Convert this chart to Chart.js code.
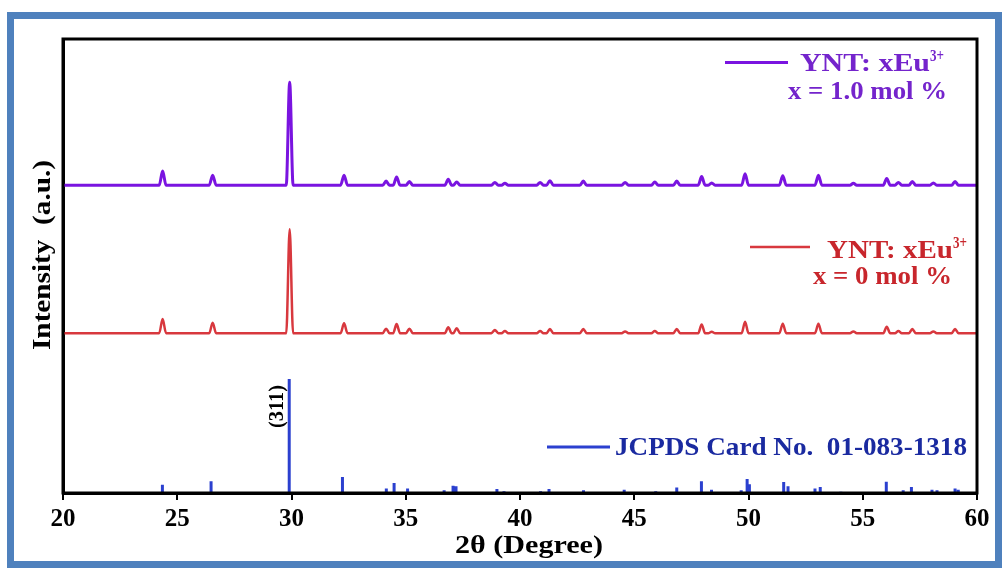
<!DOCTYPE html>
<html>
<head>
<meta charset="utf-8">
<script src="https://cdn.jsdelivr.net/npm/chart.js@4.4.1/dist/chart.umd.min.js"></script>
<style>
  html, body { margin: 0; padding: 0; background: #ffffff; }
  #wrap { position: relative; width: 1005px; height: 568px; }
  canvas { display: block; }
</style>
</head>
<body>
<div id="wrap"><canvas id="c" width="1005" height="568"></canvas></div>
<script>
// ---- data (2θ in degrees, intensity in arbitrary units) ----
const xTickValues = [20, 25, 30, 35, 40, 45, 50, 55, 60];

// measured peak positions (shared by both samples)
const peakPositions = [24.36, 26.55, 29.92, 32.30, 34.14, 34.60, 35.16, 36.86, 37.23, 38.90,
                       39.34, 40.88, 41.31, 42.77, 44.60, 45.90, 46.86, 47.95, 48.39, 49.85,
                       51.50, 53.06, 54.59, 56.05, 56.56, 57.17, 58.09, 59.04];

// x = 1.0 mol % sample (stacked, offset baseline)
const purpleBaseline = 67.8;
const purpleTops = [70.9, 70.0, 90.5, 70.0, 68.7, 69.6, 68.6, 69.1, 68.5, 68.4,
                    68.2, 68.4, 68.8, 68.7, 68.4, 68.5, 68.7, 69.7, 68.3, 70.3,
                    69.9, 70.0, 68.2, 69.3, 68.4, 68.6, 68.3, 68.6];

// x = 0 mol % sample
const redBaseline = 35.2;
const redTops = [38.3, 37.5, 58.1, 37.4, 36.2, 37.2, 36.2, 36.5, 36.3, 35.9,
                 35.7, 35.7, 36.1, 36.1, 35.6, 35.7, 36.1, 37.1, 35.5, 37.7,
                 37.3, 37.3, 35.6, 36.6, 35.7, 36.1, 35.6, 36.1];

// JCPDS 01-083-1318 reference lines
const jcpdsPositions = [24.35, 26.48, 29.90, 32.23, 34.15, 34.49, 35.08, 36.68, 37.07, 37.20,
                        38.99, 39.30, 40.90, 41.27, 42.78, 44.56, 45.94, 46.86, 47.94, 48.38,
                        49.68, 49.94, 50.04, 51.54, 51.73, 52.91, 53.14, 54.04, 56.03, 56.77,
                        57.13, 58.03, 58.25, 59.04, 59.18];
const jcpdsHeights = [1.8, 2.6, 25.1, 3.5, 1.0, 2.2, 1.0, 0.6, 1.6, 1.5,
                      0.9, 0.4, 0.4, 0.9, 0.6, 0.7, 0.4, 1.2, 2.6, 0.7,
                      0.6, 3.1, 1.9, 2.4, 1.5, 1.0, 1.3, 0.3, 2.5, 0.6,
                      1.3, 0.7, 0.6, 1.0, 0.7];

const seriesLabels = ['YNT: xEu', 'x = 1.0 mol %', 'x = 0 mol %', 'JCPDS Card No.  01-083-1318'];

// ---- styling ----
const PURPLE = '#7a14e0';
const RED = '#d8383e';
const BLUE = '#2b40cf';
const PEAK_HALF_WIDTH = 0.15;
const SERIF = 'Liberation Serif';

function trace(base, tops) {
  const pts = [{x: 20, y: base}];
  peakPositions.forEach((p, i) => {
    pts.push({x: p - PEAK_HALF_WIDTH, y: base});
    pts.push({x: p, y: tops[i]});
    pts.push({x: p + PEAK_HALF_WIDTH, y: base});
  });
  pts.push({x: 60, y: base});
  return pts;
}
function sticks(pos, h) {
  const pts = [];
  pos.forEach((p, i) => {
    pts.push({x: p, y: 0});
    pts.push({x: p, y: h[i]});
    pts.push({x: p, y: null});
  });
  return pts;
}

function fitText(ctx, text, x, y, w, font, color, rot) {
  ctx.save();
  ctx.font = font;
  ctx.fillStyle = color;
  ctx.textBaseline = 'alphabetic';
  ctx.textAlign = 'left';
  const m = ctx.measureText(text).width;
  ctx.translate(x, y);
  if (rot) ctx.rotate(rot);
  ctx.scale(w / m, 1);
  ctx.fillText(text, 0, 0);
  ctx.restore();
}
function legendLine(ctx, x1, x2, y, color, lw) {
  ctx.save();
  ctx.strokeStyle = color;
  ctx.lineWidth = lw;
  ctx.beginPath();
  ctx.moveTo(x1, y);
  ctx.lineTo(x2, y);
  ctx.stroke();
  ctx.restore();
}

const decor = {
  id: 'decor',
  beforeDraw(chart) {
    const ctx = chart.ctx;
    ctx.save();
    ctx.fillStyle = '#ffffff';
    ctx.fillRect(0, 0, chart.width, chart.height);
    ctx.restore();
  },
  afterDraw(chart) {
    const ctx = chart.ctx;
    const a = chart.chartArea;
    // plot frame
    ctx.save();
    ctx.strokeStyle = '#000000';
    ctx.lineWidth = 3;
    ctx.strokeRect(a.left, a.top, a.right - a.left, a.bottom - a.top);
    ctx.restore();
    // outer blue frame
    ctx.save();
    ctx.strokeStyle = '#4f81bd';
    ctx.lineWidth = 7;
    ctx.strokeRect(10.5, 15.5, 988, 549);
    ctx.restore();

    const bold24 = 'bold 25px "Liberation Serif"';
    const bold15 = 'bold 17px "Liberation Serif"';
    // purple legend
    legendLine(ctx, 725, 788, 62.5, PURPLE, 3);
    fitText(ctx, seriesLabels[0], 800, 71, 130, bold24, '#7424cc');
    fitText(ctx, '3+', 930, 61, 14, bold15, '#7424cc');
    fitText(ctx, seriesLabels[1], 788, 99, 159, bold24, '#7424cc');
    // red legend
    legendLine(ctx, 750, 810, 247, RED, 2.5);
    fitText(ctx, seriesLabels[0], 827, 257.5, 126, bold24, '#c8262c');
    fitText(ctx, '3+', 953, 248, 14, bold15, '#c8262c');
    fitText(ctx, seriesLabels[2], 813, 284, 139, bold24, '#c8262c');
    // blue legend
    legendLine(ctx, 547, 610, 447, BLUE, 3);
    fitText(ctx, seriesLabels[3], 615, 455, 352, bold24, '#1a2aa0');

    // (311) label
    fitText(ctx, '(311)', 283, 428, 43, 'bold 21px "Liberation Serif"', '#000000', -Math.PI / 2);

    // axis titles
    fitText(ctx, '2θ (Degree)', 455, 553, 148, bold24, '#000000');
    fitText(ctx, 'Intensity  (a.u.)', 50, 350, 190, bold24, '#000000', -Math.PI / 2);
  }
};

new Chart(document.getElementById('c'), {
  type: 'line',
  data: {
    datasets: [
      { data: trace(purpleBaseline, purpleTops), borderColor: PURPLE, borderWidth: 3, pointRadius: 0, cubicInterpolationMode: 'monotone', fill: false },
      { data: trace(redBaseline, redTops), borderColor: RED, borderWidth: 2.5, pointRadius: 0, cubicInterpolationMode: 'monotone', fill: false },
      { data: sticks(jcpdsPositions, jcpdsHeights), borderColor: BLUE, borderWidth: 3, pointRadius: 0, tension: 0, fill: false, spanGaps: false, borderCapStyle: 'butt' }
    ]
  },
  options: {
    responsive: false,
    animation: false,
    events: [],
    layout: { padding: { left: 63, top: 39, right: 28, bottom: 0 } },
    plugins: { legend: { display: false }, tooltip: { enabled: false } },
    scales: {
      x: {
        type: 'linear',
        min: 20, max: 60,
        afterBuildTicks: (s) => { s.ticks = xTickValues.map(v => ({ value: v })); },
        afterFit: (s) => { s.height = 75; },
        ticks: { color: '#000000', font: { family: SERIF, size: 25, weight: 'bold' }, padding: 5, maxRotation: 0 },
        grid: { drawOnChartArea: false, tickLength: 7, color: '#000000', lineWidth: 2 },
        border: { color: '#000000', width: 3 }
      },
      y: {
        type: 'linear',
        min: 0, max: 100,
        afterFit: (s) => { s.width = 0; },
        ticks: { display: false },
        grid: { display: false },
        border: { color: '#000000', width: 3 }
      }
    }
  },
  plugins: [decor]
});
</script>
</body>
</html>
